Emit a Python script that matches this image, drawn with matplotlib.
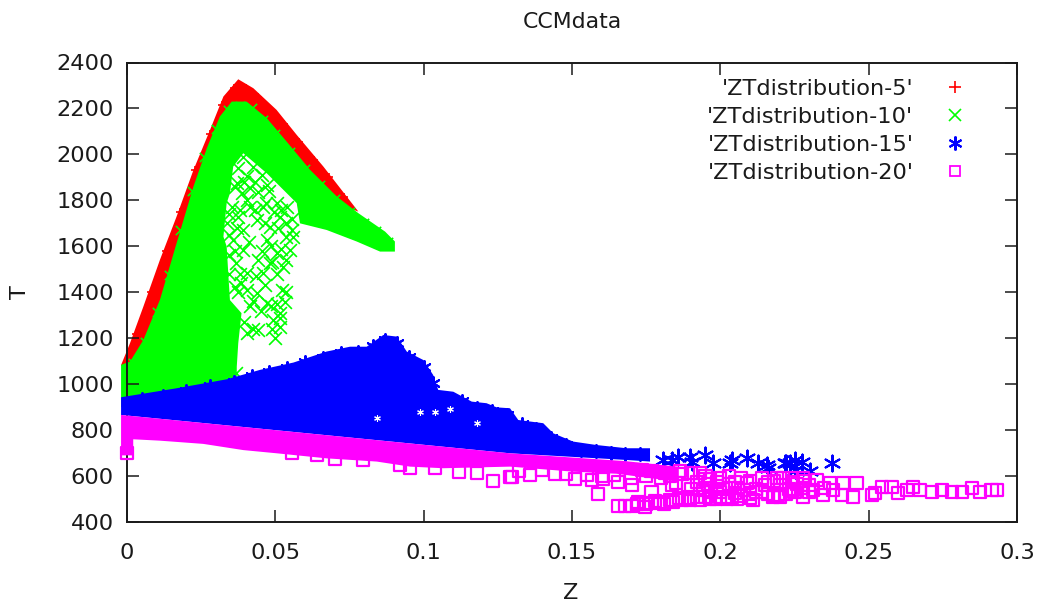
import matplotlib
matplotlib.use("Agg")
import matplotlib.pyplot as plt
from matplotlib.lines import Line2D

red_z = [-0.002, 0.001, 0.0055, 0.0111, 0.0167, 0.0224, 0.028, 0.0325, 0.0375, 0.0426, 0.0504, 0.0572, 0.0662, 0.078,
         0.07, 0.05, 0.04, 0.03, 0.02, 0.01, 0.0]
red_t = [1083, 1178, 1337, 1541, 1729, 1932, 2107, 2252, 2327, 2288, 2194, 2085, 1947, 1751,
         1790, 2050, 2180, 2100, 1700, 1250, 1050]
red_edge_z = [0.003, 0.008, 0.013, 0.018, 0.023, 0.028, 0.032, 0.036, 0.04, 0.044, 0.048, 0.053, 0.058, 0.063, 0.068, 0.073]
red_edge_t = [1220, 1400, 1580, 1750, 1930, 2087, 2215, 2290, 2290, 2250, 2204, 2132, 2052, 1975, 1900, 1815]

green_z = [-0.002, 0.001, 0.0055, 0.0111, 0.0167, 0.0224, 0.0269, 0.0313, 0.0353, 0.0403, 0.0471, 0.0538, 0.0617,
           0.0707, 0.078, 0.087, 0.0903, 0.0903, 0.0853, 0.0774, 0.0673, 0.0583, 0.0572, 0.0471, 0.0392, 0.0358,
           0.0347, 0.0336, 0.0325, 0.0336, 0.0342, 0.0347, 0.0386, 0.0375, 0.037, 0.037, 0.0, -0.002]
green_t = [1084, 1098, 1192, 1367, 1613, 1860, 2027, 2165, 2230, 2230, 2158, 2056, 1933,
           1817, 1744, 1664, 1621, 1577, 1577, 1621, 1671, 1700, 1788, 1918, 2005, 1947,
           1831, 1788, 1642, 1599, 1468, 1366, 1309, 1178, 1076, 1000, 900, 900]
green_edge_z = [0.002, 0.006, 0.01, 0.014, 0.018, 0.022, 0.026, 0.03, 0.034, 0.038, 0.042, 0.046, 0.05, 0.055, 0.06,
                0.065, 0.07, 0.075, 0.08, 0.084, 0.088]
green_edge_t = [1090, 1185, 1315, 1475, 1670, 1840, 1990, 2110, 2195, 2210, 2200, 2150, 2090, 2010, 1935,
                1865, 1805, 1750, 1700, 1665, 1620]
green_pts_z = [0.0392, 0.0375, 0.0426, 0.0454, 0.0403, 0.037, 0.0415, 0.0443, 0.0471, 0.0386, 0.0353, 0.0375, 0.0415,
               0.046, 0.0504, 0.0538, 0.0437, 0.0482, 0.0516, 0.0555, 0.0336, 0.0392, 0.0358, 0.0392, 0.0471, 0.0505,
               0.0549, 0.0443, 0.0482, 0.0527, 0.0369, 0.0403, 0.0459, 0.0364, 0.0403, 0.0437, 0.0471, 0.0521, 0.0532,
               0.0516, 0.0493, 0.0443, 0.0403, 0.0499, 0.0415, 0.0369, 0.0516,
               0.0365, 0.0395, 0.043, 0.048, 0.0345, 0.038, 0.0405, 0.043, 0.047, 0.0495, 0.052, 0.0535, 0.0555,
               0.0345, 0.037, 0.0465, 0.051, 0.0535, 0.0365, 0.041, 0.0455, 0.0485, 0.052, 0.056, 0.0345, 0.0345,
               0.038, 0.0435, 0.049, 0.0505, 0.0535, 0.0375, 0.0385, 0.0465, 0.0425, 0.045, 0.0485, 0.0505, 0.0535,
               0.049, 0.0515, 0.0425, 0.0395]
green_pts_t = [1990, 1940, 1947, 1911, 1904, 1875, 1853, 1838, 1867, 1831, 1773, 1729, 1773,
               1773, 1788, 1773, 1715, 1686, 1729, 1671, 1700, 1671, 1628, 1584, 1628, 1570,
               1584, 1541, 1526, 1512, 1526, 1483, 1483, 1425, 1410, 1396, 1352, 1410, 1359,
               1309, 1280, 1236, 1221, 1200, 1338, 1047, 1250,
               1860, 1880, 1880, 1840, 1740, 1760, 1800, 1760, 1790, 1750, 1760, 1700, 1720,
               1650, 1680, 1700, 1680, 1640, 1580, 1620, 1580, 1600, 1590, 1640, 1560, 1480,
               1480, 1470, 1530, 1480, 1540, 1400, 1440, 1430, 1360, 1320, 1340, 1350, 1400,
               1240, 1290, 1240, 1270]

blue_z = [-0.002, 0.0167, 0.0336, 0.0448, 0.0561, 0.0673, 0.0752, 0.0808, 0.0864, 0.0909, 0.0943, 0.0999, 0.1032,
          0.1049, 0.11, 0.1162, 0.1212, 0.1246, 0.1291, 0.1319, 0.1403, 0.1437, 0.1504, 0.1583, 0.1684, 0.1763,
          0.1763, 0.1684, 0.1291, -0.002]
blue_t = [943, 982, 1021, 1062, 1094, 1142, 1163, 1163, 1214, 1207, 1142, 1105, 1040,
          975, 967, 924, 917, 899, 895, 844, 830, 786, 750, 735, 721, 721,
          663, 670, 699, 866]
blue_edge_z = [0.005, 0.012, 0.02, 0.028, 0.036, 0.042, 0.048, 0.054, 0.06, 0.066, 0.072, 0.078, 0.083, 0.087, 0.091,
               0.095, 0.1, 0.103, 0.108, 0.113, 0.118, 0.123, 0.128, 0.133, 0.138, 0.143, 0.148, 0.153, 0.158, 0.163,
               0.168, 0.173]
blue_edge_t = [935, 950, 970, 990, 1010, 1035, 1055, 1070, 1095, 1115, 1135, 1140, 1165, 1190, 1180,
               1120, 1075, 1005, 930, 925, 895, 885, 865, 825, 805, 765, 735, 715, 708, 700,
               698, 698]
blue_pts_z = [0.1808, 0.1836, 0.1858, 0.1897, 0.1903, 0.1948, 0.1976, 0.2032, 0.2038, 0.2089, 0.2128, 0.2156, 0.2161,
              0.2223, 0.2251, 0.2251, 0.2218, 0.2235, 0.2274, 0.2255, 0.2302, 0.2377]
blue_pts_t = [670, 670, 684, 684, 663, 692, 655, 655, 670, 677, 655, 648, 634,
              655, 670, 626, 658, 658, 663, 626, 623, 655]
# little white specks inside the blue cloud
gap_z = [0.0988, 0.1089, 0.1038, 0.0842, 0.1179]
gap_t = [880, 891, 880, 851, 830]

pink_z = [-0.002, 0.1291, 0.168, 0.186, 0.186, 0.165, 0.1504, 0.1291, 0.1066, 0.0954, 0.0842, 0.0673, 0.0505, 0.0392,
          0.0257, 0.0111, 0.0021, 0.0021, -0.002]
pink_t = [866, 699, 665, 640, 575, 610, 619, 641, 634, 641, 663, 677, 699, 713,
          740, 754, 760, 690, 690]
pink_pts_z = [0.0, 0.0555, 0.0639, 0.0701, 0.0796, 0.092, 0.0954, 0.1038, 0.112, 0.1179, 0.1235, 0.1291, 0.1297,
              0.1358, 0.1443, 0.151, 0.1566, 0.1605, 0.1656, 0.1701, 0.1589, 0.1768, 0.1836, 0.1655, 0.1678, 0.1701,
              0.1723, 0.1746, 0.1768, 0.1796, 0.1841, 0.187, 0.1897, 0.1931, 0.1965, 0.1987, 0.2021, 0.2055, 0.2111,
              0.2178, 0.2201, 0.2246, 0.1735, 0.1768, 0.1813, 0.1863, 0.1931, 0.1965, 0.185, 0.189, 0.192, 0.196,
              0.199, 0.203, 0.206, 0.209, 0.212, 0.215, 0.218, 0.221, 0.223, 0.226, 0.228, 0.2, 0.205, 0.21,
              0.214, 0.218, 0.222, 0.219, 0.2195, 0.2246, 0.2279, 0.2279, 0.2325, 0.2313, 0.2347, 0.2369, 0.2409,
              0.2414, 0.2447, 0.2459, 0.251, 0.2521, 0.2544, 0.2577, 0.2599, 0.2628, 0.265, 0.2673, 0.2712, 0.2746,
              0.278, 0.2813, 0.2847, 0.2875, 0.2914, 0.2931,
              0.132, 0.14, 0.148, 0.155, 0.16, 0.164, 0.17, 0.175, 0.18, 0.183, 0.187, 0.19, 0.195, 0.2, 0.203,
              0.207, 0.21, 0.214, 0.216, 0.19, 0.194, 0.197, 0.201, 0.208, 0.212, 0.216, 0.205, 0.195, 0.199,
              0.22, 0.224, 0.228, 0.23, 0.225, 0.23, 0.235, 0.238, 0.172, 0.175, 0.178, 0.181, 0.183, 0.186,
              0.189, 0.192, 0.195, 0.2, 0.204, 0.207, 0.21]
pink_pts_t = [700, 699, 692, 673, 670, 648, 636, 634, 619, 615, 578, 597, 597,
              605, 609, 586, 583, 586, 576, 561, 522, 532, 561, 470, 470, 470,
              488, 467, 481, 488, 488, 496, 496, 496, 500, 500, 500, 500, 496,
              510, 510, 539, 625, 620, 612, 620, 612, 585, 570, 560, 575, 565,
              555, 565, 550, 570, 545, 560, 580, 590, 545, 565, 550, 530, 525, 520,
              530, 515, 520, 590, 518, 576, 590, 510, 583, 539, 518, 568, 518,
              568, 510, 568, 518, 525, 554, 554, 528, 539, 554, 539, 532, 539,
              532, 532, 547, 532, 539, 539,
              620, 625, 610, 605, 600, 605, 590, 600, 590, 600, 610, 615, 600, 590, 600,
              590, 580, 590, 575, 545, 540, 530, 545, 540, 530, 520, 575, 585, 575,
              560, 590, 580, 560, 530, 530, 550, 540, 480, 480, 490, 480, 495, 505,
              505, 510, 510, 510, 508, 515, 505]

xticks = [0, 0.05, 0.1, 0.15, 0.2, 0.25, 0.3]
xtick_labels = ["0", "0.05", "0.1", "0.15", "0.2", "0.25", "0.3"]
yticks = [400, 600, 800, 1000, 1200, 1400, 1600, 1800, 2000, 2200, 2400]

RED = "#ff0000"
GREEN = "#00ff00"
BLUE = "#0000ff"
PINK = "#ff00ff"
DARK = "#1a1a1a"
FS = 16.2
STAR = (6, 2, 0)

plt.rcParams["font.family"] = "DejaVu Sans"
fig = plt.figure(figsize=(10.39, 6.03), dpi=100)
ax = fig.add_axes([127 / 1039, 1 - 522 / 603, 890 / 1039, 459.5 / 603])

ax.fill(red_z, red_t, color=RED, lw=0, clip_on=False, zorder=1.1)
ax.scatter(red_edge_z, red_edge_t, marker="+", s=40, c=RED, linewidths=1.2, zorder=1.15)
ax.fill(green_z, green_t, color=GREEN, lw=0, clip_on=False, zorder=1.2)
ax.scatter(green_edge_z, green_edge_t, marker="x", s=45, c=GREEN, linewidths=1.2, zorder=1.3)
ax.scatter(green_pts_z, green_pts_t, marker="x", s=85, c=GREEN, linewidths=1.2, zorder=1.3)
ax.fill(blue_z, blue_t, color=BLUE, lw=0, clip_on=False, zorder=3.1)
ax.scatter(blue_edge_z, blue_edge_t, marker=STAR, s=85, c=BLUE, linewidths=1.5, zorder=3.2)
ax.scatter(blue_pts_z, blue_pts_t, marker=STAR, s=130, c=BLUE, linewidths=1.5, zorder=3.2)
ax.scatter(gap_z, gap_t, marker=STAR, s=18, c="white", linewidths=0.8, zorder=3.3)
ax.fill(pink_z, pink_t, color=PINK, lw=0, clip_on=False, zorder=3.4)
ax.scatter(pink_pts_z, pink_pts_t, marker="s", s=75, facecolors="none", edgecolors=PINK, linewidths=1.6,
           clip_on=False, zorder=3.5)

ax.set_xlim(0, 0.3)
ax.set_ylim(400, 2400)
ax.set_xticks(xticks)
ax.set_xticklabels(xtick_labels)
ax.set_yticks(yticks)
ax.tick_params(direction="in", top=True, right=True, length=8.5, width=1.1, color=DARK,
               labelsize=FS, labelcolor=DARK)
ax.tick_params(axis="y", pad=9.5)
ax.tick_params(axis="x", pad=15)
for s in ax.spines.values():
    s.set_linewidth(1.4)
    s.set_color(DARK)
    s.set_zorder(2.5)

fig.text(572 / 1039, 1 - 21.5 / 603, "CCMdata", fontsize=15.8, color=DARK, ha="center", va="center")
fig.text(571 / 1039, 1 - 593 / 603, "Z", fontsize=FS, color=DARK, ha="center", va="center")
fig.text(20 / 1039, 1 - 292 / 603, "T", fontsize=FS, color=DARK, ha="center", va="center", rotation=90)

handles = [
    Line2D([], [], ls="", marker="+", ms=9, mew=1.2, color=RED),
    Line2D([], [], ls="", marker="x", ms=8.5, mew=1.2, color=GREEN),
    Line2D([], [], ls="", marker=STAR, ms=10, mew=1.5, color=BLUE),
    Line2D([], [], ls="", marker="s", ms=7.5, mew=1.3, mfc="none", color=PINK),
]
labels = ["'ZTdistribution-5'", "'ZTdistribution-10'", "'ZTdistribution-15'", "'ZTdistribution-20'"]
leg = ax.legend(handles, labels, loc="upper right", bbox_to_anchor=(973 / 1039, 1 - 79 / 603),
                bbox_transform=fig.transFigure, markerfirst=False, frameon=False, fontsize=FS,
                labelspacing=0.36, handletextpad=1.05, borderpad=0, borderaxespad=0, handlelength=1.6)
for t in leg.get_texts():
    t.set_color(DARK)
leg.set_zorder(5)

fig.savefig("out.png", dpi=100)
